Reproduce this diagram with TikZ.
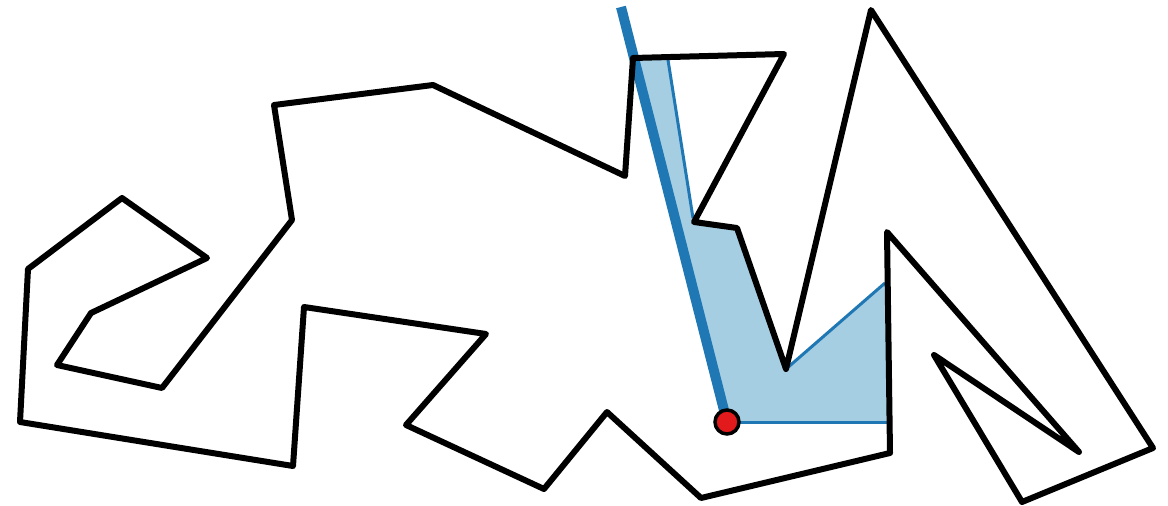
\documentclass[tikz,border=0pt]{standalone}
\definecolor{tabblue}{HTML}{1F77B4}
\definecolor{lightfill}{HTML}{A6CEE3}
\definecolor{dotred}{HTML}{E31A1C}
\begin{document}
\begin{tikzpicture}[x=1pt,y=-1pt,
  outline/.style={draw=black,line width=6pt,line join=round},
  visedge/.style={draw=tabblue,line width=3pt},
  ray/.style={draw=tabblue,line width=10pt},
  viewpt/.style={circle,fill=dotred,draw=black,line width=3.5pt,minimum size=24pt,inner sep=0pt}]
\useasboundingbox (0,0) rectangle (1168,506);
% coordinates
\coordinate (p) at (727,422);
\coordinate (r) at (621,7);
\coordinate (f1) at (634.5,60);
\coordinate (f2) at (668,60);
\coordinate (f3) at (693,218);
\coordinate (f4) at (885,283);
\coordinate (f5) at (887,422);
% visible region
\fill[lightfill] (p) -- (f1) -- (f2) -- (f3) -- (737,228) -- (786,369) -- (f4) -- (f5) -- cycle;
\draw[visedge] (f2) -- (f3);
\draw[visedge] (786,369) -- (f4);
\draw[visedge] (f5) -- (p);
\draw[ray] (p) -- (r);
% polygon
\draw[outline] (633,58) -- (784,54) -- (694,222) -- (737,228) -- (786,369) -- (871,10)
  -- (1153,448) -- (1022,502) -- (934,355) -- (1079,452) -- (887,232) -- (890,453)
  -- (701,498) -- (607,412) -- (544,489) -- (406,425) -- (486,334) -- (304,307)
  -- (293,466) -- (20,422) -- (28,269) -- (122,198) -- (207,258) -- (91,313)
  -- (57,365) -- (162,388) -- (292,220) -- (274,105) -- (433,85) -- (625,176) -- cycle;
\node[viewpt] (pt) at (p) {};
\end{tikzpicture}
\end{document}
